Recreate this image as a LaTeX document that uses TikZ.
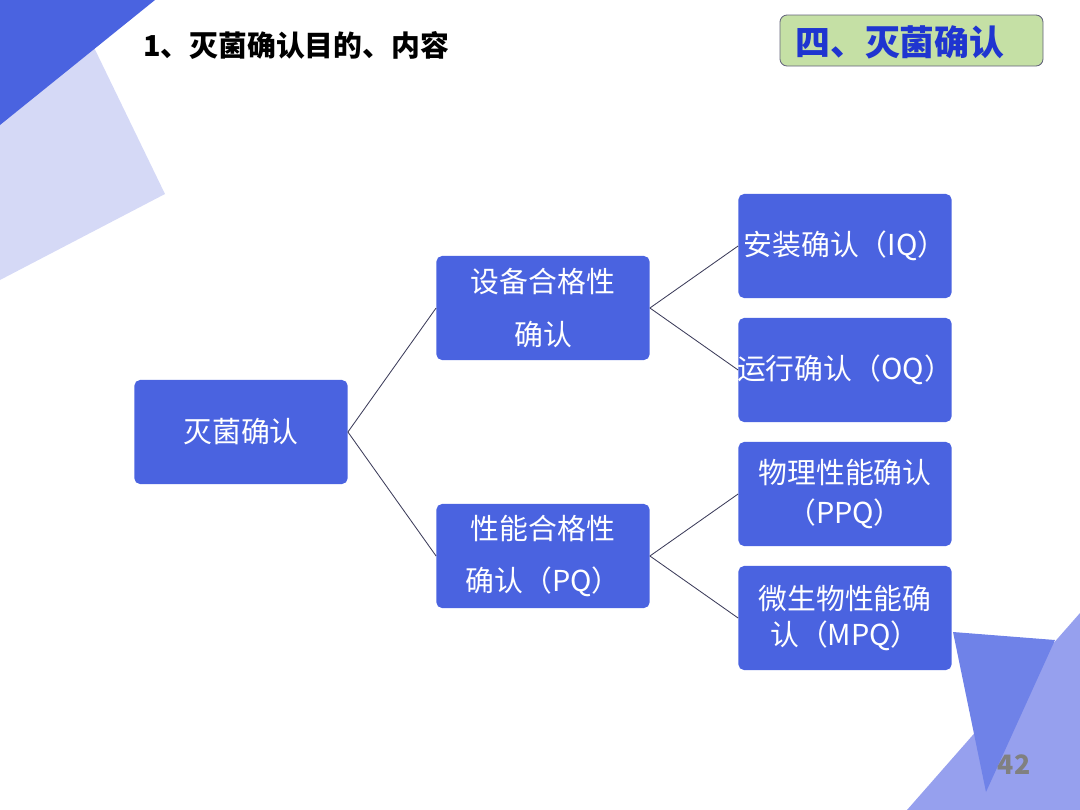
\documentclass[tikz,border=0pt]{standalone}
\usepackage{fontspec}
\setmainfont{Noto Sans CJK SC}
\usepackage{tikz}

\definecolor{boxblue}{RGB}{74,99,224}
\definecolor{paleblue}{RGB}{213,217,246}
\definecolor{midblue}{RGB}{111,130,232}
\definecolor{softblue}{RGB}{150,160,238}
\definecolor{badgegreen}{RGB}{197,224,165}
\definecolor{badgetext}{RGB}{31,53,208}
\definecolor{linkgray}{RGB}{60,60,90}

\begin{document}
\begin{tikzpicture}[x=0.025cm, y=-0.025cm,
    box/.style={fill=boxblue, rounded corners=4pt, minimum width=5.33cm,
                minimum height=2.6cm, inner sep=0pt, align=center, text=white,
                font=\fontsize{20.5}{26}\selectfont},
    link/.style={draw=linkgray, line width=0.6pt}]
  \useasboundingbox (0,0) rectangle (1080,810);
  % corner decorations
  \fill[paleblue] (71,0) -- (165,194) -- (0,280) -- (0,0) -- cycle;
  \fill[boxblue] (0,0) -- (155,0) -- (0,125) -- cycle;
  \fill[softblue] (907,810) -- (1080,613) -- (1080,810) -- cycle;
  \fill[midblue] (953,632) -- (1055,640) -- (986,792) -- cycle;
  % heading and badge
  \node[anchor=west, inner sep=0pt, font=\fontsize{20.5}{24}\selectfont\bfseries]
        (title) at (143,45) {1、灭菌确认目的、内容};
  \draw[draw=linkgray!80, fill=badgegreen, rounded corners=5pt, line width=0.6pt]
        (780,15) rectangle (1043,66);
  \node[anchor=west, inner sep=0pt, text=badgetext,
        font=\fontsize{24.8}{28}\selectfont\bfseries]
        (badge) at (795,42) {四、灭菌确认};
  \node[text=black!50, font=\fontsize{19}{22}\selectfont\bfseries]
        (pagenum) at (1014,765) {42};
  % tree boxes
  \node[box] (root) at (241,432) {灭菌确认};
  \node[box, font=\fontsize{20.5}{37}\selectfont] (dev) at (543,308) {设备合格性\\确认};
  \node[box, font=\fontsize{20.5}{37}\selectfont] (perf) at (543,556) {性能合格性\\确认（PQ）};
  \node[box] (iq) at (845,246) {安装确认（IQ）};
  \node[box] (oq) at (845,370) {\makebox[5.33cm]{运行确认（OQ）}};
  \node[box, font=\fontsize{20.5}{28}\selectfont] (ppq) at (845,494) {物理性能确认\\（PPQ）};
  \node[box, font=\fontsize{20.5}{26}\selectfont] (mpq) at (845,618) {微生物性能确\\认（MPQ）};
  % connectors
  \draw[link] (root.east) -- (dev.west);
  \draw[link] (root.east) -- (perf.west);
  \draw[link] (dev.east) -- (iq.west);
  \draw[link] (dev.east) -- (oq.west);
  \draw[link] (perf.east) -- (ppq.west);
  \draw[link] (perf.east) -- (mpq.west);
\end{tikzpicture}
\end{document}
